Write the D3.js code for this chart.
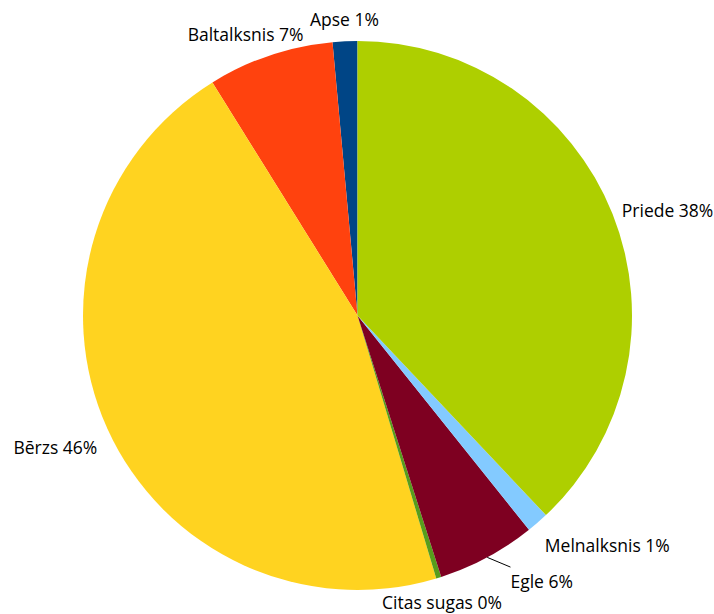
<!DOCTYPE html>
<html>
<head>
<meta charset="utf-8">
<script src="https://cdn.jsdelivr.net/npm/d3@7"></script>
<style>
  html, body { margin: 0; padding: 0; background: #fff; }
  svg { display: block; }
  text { font-family: "Open Sans", "DejaVu Sans", sans-serif; font-size: 17.5px; fill: #000; }
</style>
</head>
<body>
<svg id="chart" width="714" height="614"></svg>
<script>
// Tree species share (%), counter-clockwise from 12 o'clock
const species = ["Apse", "Baltalksnis", "Bērzs", "Citas sugas", "Egle", "Melnalksnis", "Priede"];
const shares  = [1.45, 7.4, 45.7, 0.3, 5.8, 1.3, 37.9];
const colors  = ["#004586", "#ff420e", "#ffd320", "#579d1c", "#7e0021", "#83caff", "#aecf00"];

// Label layout tweaks (pixels) for labels moved off their default spot
const labelShift = { "Baltalksnis": [-21, 0], "Egle": [18, 0], "Priede": [-1, 0] };
const leaderLines = new Set(["Egle"]);

const width = 714, height = 614;
const cx = 357.5, cy = 315.5, radius = 274.5, labelPad = 11;

const data = species.map((name, i) => ({ name, value: shares[i], color: colors[i] }));

const pie = d3.pie()
  .sort(null)
  .value(d => d.value)
  .startAngle(0)
  .endAngle(-2 * Math.PI);

const arc = d3.arc().innerRadius(0).outerRadius(radius);

const svg = d3.select("#chart");
const g = svg.append("g").attr("transform", `translate(${cx},${cy})`);

const arcs = pie(data);

g.selectAll("path.slice")
  .data(arcs)
  .join("path")
  .attr("class", "slice")
  .attr("d", arc)
  .attr("fill", d => d.data.color);

// Percent labels, placed outside the rim by compass sector of the slice bisector
const total = d3.sum(shares);
const capH = 13, descent = 4, topGap = 8;

arcs.forEach(d => {
  const a = (d.startAngle + d.endAngle) / 2;
  const s = Math.sin(a), c = -Math.cos(a);          // screen x / y direction
  const deg = Math.atan2(-c, s) * 180 / Math.PI;     // math angle, 0 = right, ccw positive
  const R = radius + labelPad;
  const px = R * s, py = R * c;

  let anchor, baseline;
  const ad = Math.abs(deg);
  if (ad <= 22.5 || ad >= 157.5) {                   // left / right: centred vertically
    anchor = s > 0 ? "start" : "end";
    baseline = py + capH / 2;
  } else if (ad >= 67.5 && ad <= 112.5) {            // top / bottom: centred horizontally
    anchor = "middle";
    baseline = c < 0 ? py - descent : py + capH + topGap;
  } else {                                           // diagonals: corner at the point
    anchor = s > 0 ? "start" : "end";
    baseline = c < 0 ? py - descent : py + capH + topGap;
  }

  const shift = labelShift[d.data.name] || [0, 0];
  const tx = px + shift[0], ty = baseline + shift[1];

  if (leaderLines.has(d.data.name)) {
    g.append("line")
      .attr("x1", radius * s).attr("y1", radius * c)
      .attr("x2", tx).attr("y2", ty - 21)
      .attr("stroke", "#000")
      .attr("stroke-width", 1);
  }

  g.append("text")
    .attr("x", tx)
    .attr("y", ty)
    .attr("text-anchor", anchor)
    .text(`${d.data.name} ${Math.round(d.data.value / total * 100)}%`);
});
</script>
</body>
</html>
